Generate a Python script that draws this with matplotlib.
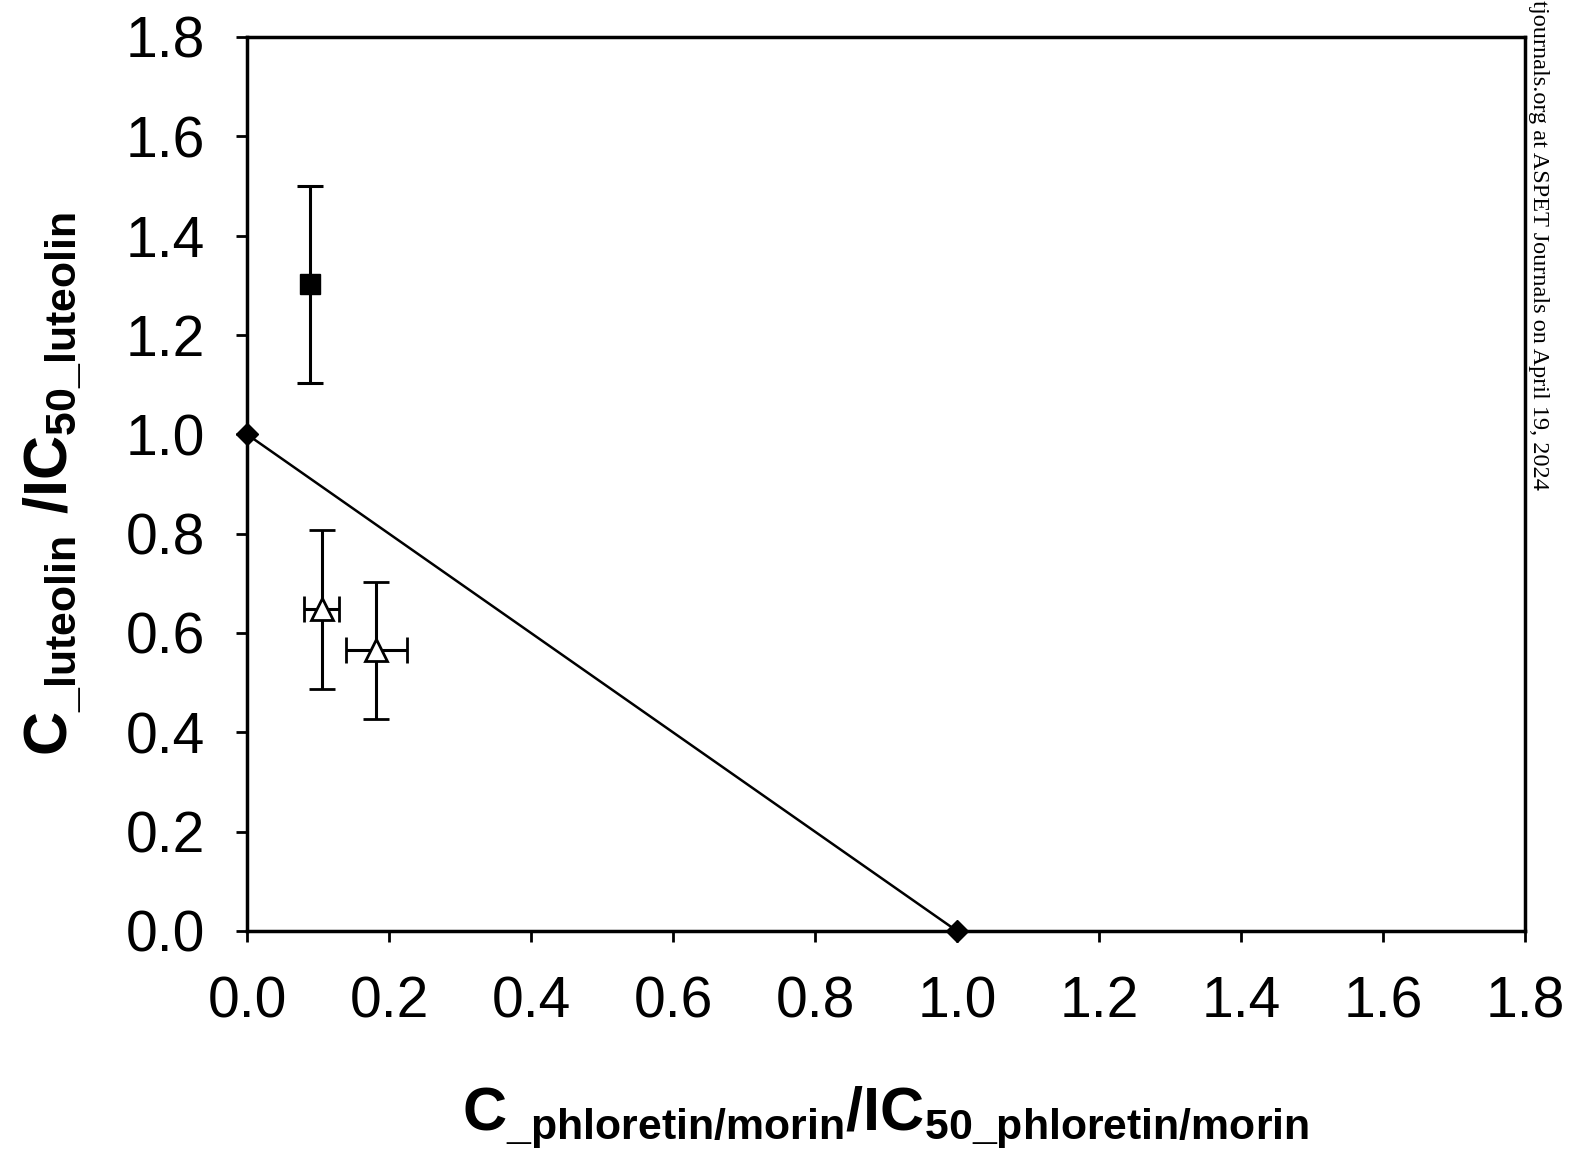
import numpy as np
import matplotlib
matplotlib.use("Agg")
import matplotlib.pyplot as plt

# isobologram points
ref_x = [0.0, 1.0]
ref_y = [1.0, 0.0]

sq_x = [0.089]
sq_y = [1.302]
sq_yerr = [0.198]

tri_x = [0.105, 0.182]
tri_y = [0.648, 0.565]
tri_xerr = [0.025, 0.043]
tri_yerr = [0.160, 0.138]

ticks = [0.0, 0.2, 0.4, 0.6, 0.8, 1.0, 1.2, 1.4, 1.6, 1.8]

plt.rcParams['font.family'] = ['Liberation Sans', 'DejaVu Sans']
plt.rcParams['mathtext.fontset'] = 'custom'
plt.rcParams['mathtext.rm'] = 'Liberation Sans'
plt.rcParams['mathtext.bf'] = 'Liberation Sans:bold'

fig = plt.figure(figsize=(15.72, 11.54), dpi=100)
ax = fig.add_axes([247 / 1572, 1 - 931 / 1154, (1525 - 247) / 1572, (931 - 37) / 1154])

# additivity line
ax.plot(ref_x, ref_y, color='black', lw=1.8, marker='D', ms=11,
        mfc='black', mec='black', clip_on=False, zorder=4)

ax.errorbar(sq_x, sq_y, yerr=sq_yerr, fmt='s', ms=14, mfc='black', mec='black',
            ecolor='black', elinewidth=2.2, capsize=9.5, capthick=2.2, zorder=3)

ax.errorbar(tri_x, tri_y, xerr=tri_xerr, yerr=tri_yerr, fmt='^', ms=16, mfc='white',
            mec='black', mew=2, ecolor='black', elinewidth=2.2, capsize=9.5,
            capthick=2.2, zorder=3)

ax.set_xlim(0, 1.8)
ax.set_ylim(0, 1.8)
ax.set_xticks(ticks)
ax.set_yticks(ticks)
ax.set_xticklabels([f"{t:.1f}" for t in ticks])
ax.set_yticklabels([f"{t:.1f}" for t in ticks])
ax.tick_params(axis='both', direction='out', length=8, width=2, labelsize=41, color='black')
ax.tick_params(axis='x', pad=24)
ax.tick_params(axis='y', pad=22)
for s in ax.spines.values():
    s.set_linewidth(2.5)

ax.set_xlabel(r'$\mathbf{C_{\_phloretin/morin}/IC_{50\_phloretin/morin}}$', fontsize=44, labelpad=40)
ax.set_ylabel(r'$\mathbf{C_{\_luteolin}\ /IC_{50\_luteolin}}$', fontsize=44, labelpad=30)

# download watermark on the right edge
fig.text(1538 / 1572, 1.0, "tjournals.org at ASPET Journals on April 19, 2024",
         rotation=270, ha='center', va='top', fontsize=17.5,
         family='Liberation Serif', color='black')

fig.savefig("out.png", dpi=100)
